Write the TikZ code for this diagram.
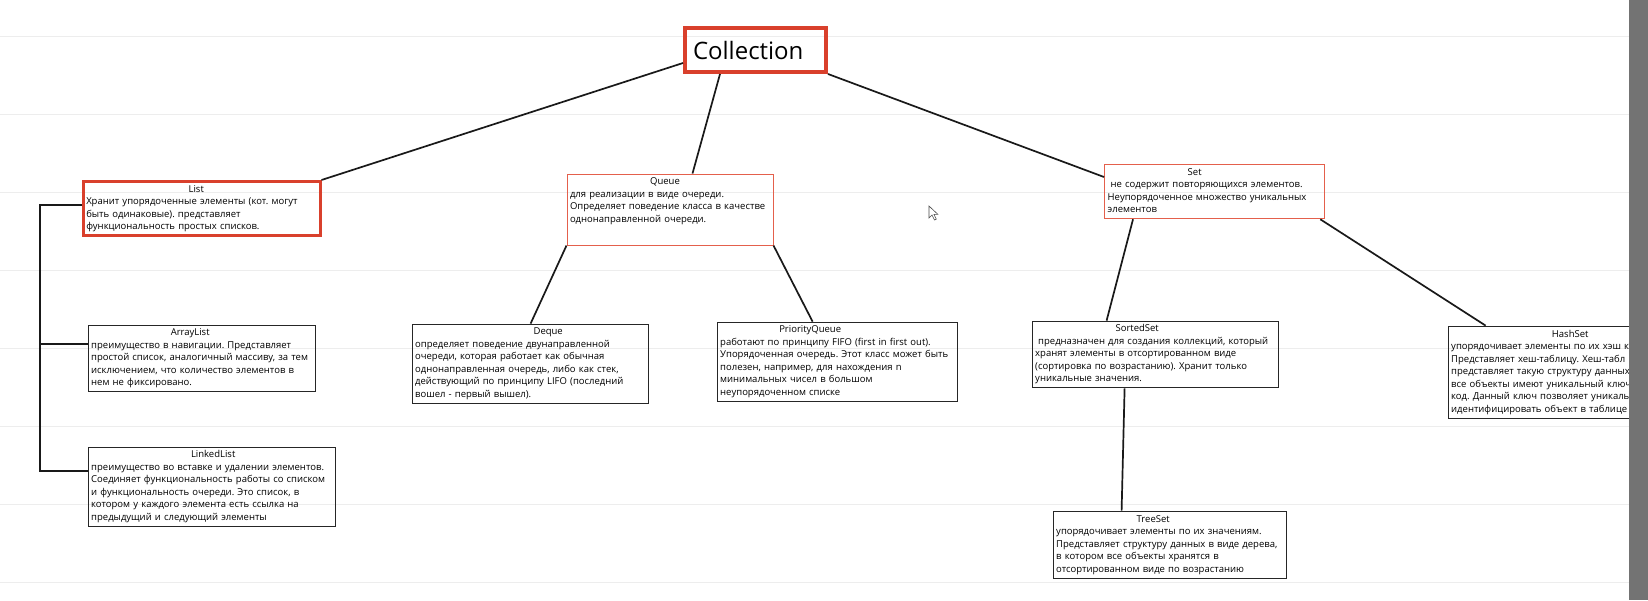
\documentclass[tikz,border=0pt]{standalone}
\usepackage{fontspec}
\setmainfont{Open Sans}
\frenchspacing
\definecolor{framered}{HTML}{D9402C}
\definecolor{lightred}{HTML}{E4604C}
\definecolor{gridgray}{HTML}{EDEDED}
% title of a box, centred at a given offset from the left
\newcommand{\boxtitle}[2]{\hspace*{#1}\makebox[0pt]{#2}\\}
% lines of a box, kept as they are written
\newcommand{\cardtext}[1]{\begin{tabular}{@{}l@{}}#1\end{tabular}}
\tikzset{
  card/.style={draw=black!85, line width=1.2pt, anchor=north west, inner xsep=3pt, inner ysep=2pt, align=left, font=\fontsize{9.5}{12.5}\selectfont},
  redcard/.style={card, draw=framered},
  link/.style={line width=1.7pt, black!90},
}
\begin{document}
\begin{tikzpicture}[x=1pt, y=-1pt]
    \useasboundingbox (0,0) rectangle (1648,600);
    \fill[white] (0,0) rectangle (1648,600);
    \foreach \y in {36,114,...,600}
        \draw[gridgray, line width=1pt] (0,\y) -- (1648,\y);

    % root
    \node[redcard, line width=4pt, minimum width=141pt, minimum height=44pt, text width=125pt, inner xsep=8pt, font=\fontsize{24}{28}\selectfont] (coll) at (683,26) {Collection};

    % first level
    \node[redcard, line width=2.5pt, minimum width=237pt, minimum height=52pt, text width=231pt] (list) at (82,180) {\cardtext{\boxtitle{110pt}{List}Хранит упорядоченные элементы (кот. могут\\быть одинаковые). представляет\\функциональность простых списков.}};
    \node[redcard, draw=lightred, line width=1pt, minimum width=206pt, minimum height=70pt, text width=200pt] (queue) at (566.5,173.5) {\cardtext{\boxtitle{95pt}{Queue}для реализации в виде очереди.\\Определяет поведение класса в качестве\\однонаправленной очереди.\\[17pt]}};
    \node[redcard, draw=lightred, line width=1.3pt, minimum width=220pt, minimum height=53pt, text width=214pt] (set) at (1104,164) {\cardtext{\boxtitle{87pt}{Set}\hspace*{3pt}не содержит повторяющихся элементов.\\Неупорядоченное множество уникальных\\элементов}};

    % List branch
    \node[card, minimum width=227pt, minimum height=66pt, text width=221pt] (arr) at (87.6,324.6) {\cardtext{\boxtitle{99pt}{ArrayList}преимущество в навигации. Представляет\\простой список, аналогичный массиву, за тем\\исключением, что количество элементов в\\нем не фиксировано.}};
    \node[card, minimum width=247pt, minimum height=79pt, text width=241pt] (linked) at (87.6,446.6) {\cardtext{\boxtitle{122pt}{LinkedList}преимущество во вставке и удалении элементов.\\Соединяет функциональность работы со списком\\и функциональность очереди. Это список, в\\котором у каждого элемента есть ссылка на\\предыдущий и следующий элементы}};

    % Queue branch
    \node[card, minimum width=236pt, minimum height=79pt, text width=230pt] (deque) at (411.6,323.6) {\cardtext{\boxtitle{133pt}{Deque}определяет поведение двунаправленной\\очереди, которая работает как обычная\\однонаправленная очередь, либо как стек,\\действующий по принципу LIFO (последний\\вошел - первый вышел).}};
    \node[card, minimum width=240pt, minimum height=79pt, text width=234pt] (pq) at (716.6,321.6) {\cardtext{\boxtitle{90pt}{PriorityQueue}работают по принципу FIFO (first in first out).\\Упорядоченная очередь. Этот класс может быть\\полезен, например, для нахождения n\\минимальных чисел в большом\\неупорядоченном списке}};

    % Set branch
    \node[card, minimum width=246pt, minimum height=66pt, text width=240pt] (sorted) at (1031.6,320.6) {\cardtext{\boxtitle{102pt}{SortedSet}\hspace*{3pt}предназначен для создания коллекций, который\\хранят элементы в отсортированном виде\\(сортировка по возрастанию). Хранит только\\уникальные значения.}};
    \node[card, minimum width=245pt, minimum height=92pt, text width=239pt] (hash) at (1447.6,325.6) {\cardtext{\boxtitle{119pt}{HashSet}упорядочивает элементы по их хэш к\\Представляет хеш-таблицу. Хеш-табл\\представляет такую структуру данных\\все объекты имеют уникальный ключ\\код. Данный ключ позволяет уникаль\\идентифицировать объект в таблице}};
    \node[card, minimum width=233pt, minimum height=67pt, text width=227pt] (tree) at (1052.6,510.6) {\cardtext{\boxtitle{97pt}{TreeSet}упорядочивает элементы по их значениям.\\Представляет структуру данных в виде дерева,\\в котором все объекты хранятся в\\отсортированном виде по возрастанию}};

    % connectors
    \draw[link] ([yshift=11pt]coll.south west) -- (list.north east);
    \draw[link] ([xshift=37pt]coll.south west) -- ([xshift=126pt]queue.north west);
    \draw[link] (coll.south east) -- ([yshift=-13pt]set.north west);
    \draw[link] (queue.south west) -- ([xshift=119pt]deque.north west);
    \draw[link] (queue.south east) -- ([xshift=96pt]pq.north west);
    \draw[link] ([xshift=29pt]set.south west) -- ([xshift=75pt]sorted.north west);
    \draw[link] ([xshift=-5pt]set.south east) -- ([xshift=38pt]hash.north west);
    \draw[link] ([xshift=93pt]sorted.south west) -- ([xshift=69pt]tree.north west);

    % List bus on the left
    \coordinate (arrin) at ([yshift=-19pt]arr.north west);
    \draw[link, line width=2pt] ([yshift=3.5pt]list.west) -- ++(-42pt,0) coordinate (bus) |- ([yshift=-24pt]linked.north west);
    \draw[link, line width=2pt] (bus |- arrin) -- (arrin);

    % mouse pointer
    \draw[black!70, fill=white, line width=0.6pt] (929,206) -- ++(0,12) -- ++(3,-3) -- ++(2.5,5) -- ++(1.8,-0.8) -- ++(-2.4,-4.8) -- ++(4,0) -- cycle;

    % window edge
    \fill[black!55] (1629,0) rectangle (1648,600);
\end{tikzpicture}
\end{document}
